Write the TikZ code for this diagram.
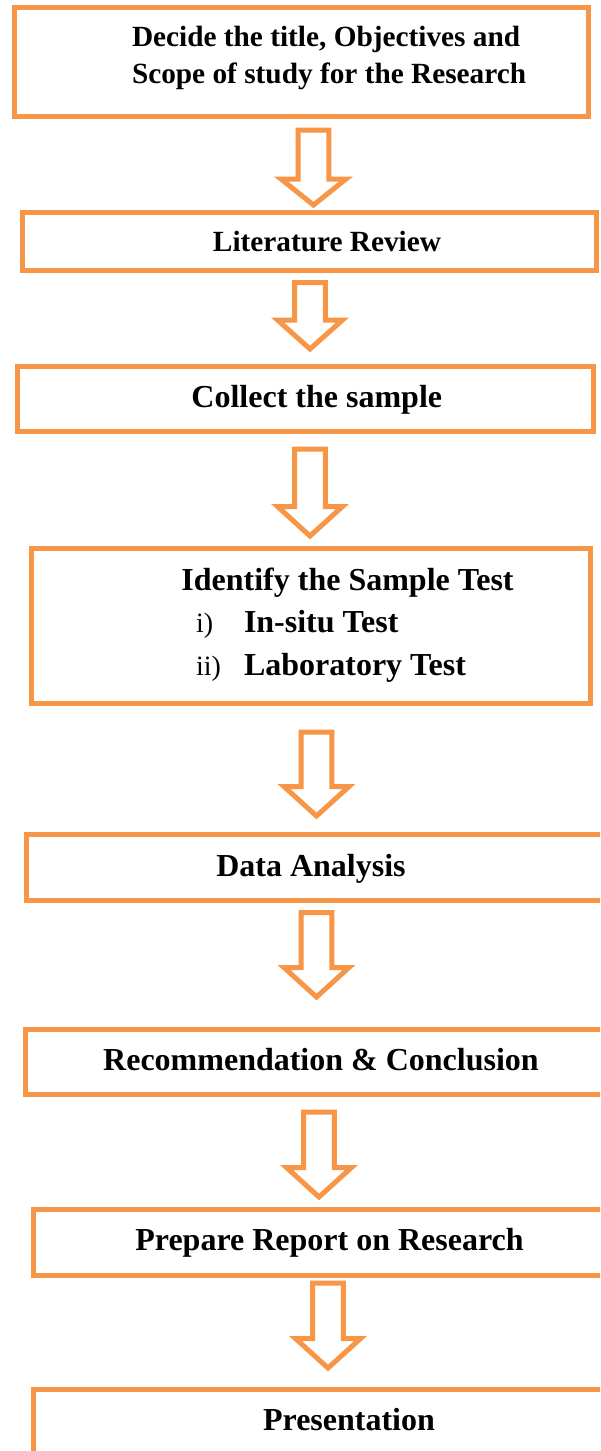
\documentclass[tikz,border=0pt]{standalone}
\usepackage{fontspec}
\setmainfont{Liberation Serif}
\begin{document}
\begin{tikzpicture}[x=1pt,y=-1pt,
  box/.style={draw=flow, line width=5pt, inner sep=0pt, outer sep=0pt, rectangle},
  arrowline/.style={draw=flow, fill=white, line width=5pt, line join=miter},
  lbl/.style={inner sep=0pt, outer sep=0pt, text=black},
  smalltxt/.style={lbl, font=\fontsize{29.3}{35}\selectfont\bfseries},
  bigtxt/.style={lbl, font=\fontsize{32}{38}\selectfont\bfseries},
  numtxt/.style={lbl, font=\fontsize{28}{34}\selectfont}]
\definecolor{flow}{HTML}{F79646}
\useasboundingbox (0,0) rectangle (600,1451);
\clip (0,0) rectangle (600,1451);
\fill[white] (0,0) rectangle (600,1451);

% process boxes
\node[box, minimum width=574.5pt, minimum height=109pt] (b1) at (301.25,62) {};
\node[box, minimum width=574pt,   minimum height=58pt]  (b2) at (309.5,241.5) {};
\node[box, minimum width=576pt,   minimum height=65pt]  (b3) at (305.5,399) {};
\node[box, minimum width=559pt,   minimum height=155pt] (b4) at (311,626) {};
\node[box, minimum width=593.5pt, minimum height=66pt]  (b5) at (323.25,867.5) {};
\node[box, minimum width=594.5pt, minimum height=65pt]  (b6) at (322.75,1062) {};
\node[box, minimum width=586.5pt, minimum height=66pt]  (b7) at (326.75,1242.5) {};
\node[box, minimum width=586.5pt, minimum height=90.5pt] (b8) at (326.75,1434.75) {};

% box texts
\node[smalltxt, anchor=base west] (t1a) at (132,46) {Decide the title, Objectives and};
\node[smalltxt, anchor=base west] (t1b) at (132,83.3) {Scope of study for the Research};
\node[smalltxt, anchor=base] (t2) at (327,251.7) {Literature Review};
\node[bigtxt, anchor=base] (t3) at (316.8,407.3) {Collect the sample};
\node[bigtxt, anchor=base] (t4) at (347.5,590) {Identify the Sample Test};
\node[numtxt, anchor=base west] (n4a) at (196,632) {i)};
\node[bigtxt, anchor=base west] (t4a) at (244,632) {In-situ Test};
\node[numtxt, anchor=base west] (n4b) at (196,675) {ii)};
\node[bigtxt, anchor=base west] (t4b) at (244,675) {Laboratory Test};
\node[bigtxt, anchor=base] (t5) at (311,876) {Data Analysis};
\node[bigtxt, anchor=base] (t6) at (321,1070.7) {Recommendation \& Conclusion};
\node[bigtxt, anchor=base] (t7) at (329.5,1250.7) {Prepare Report on Research};
\node[bigtxt, anchor=base] (t8) at (349,1430) {Presentation};

% hollow block arrows: name, centre x, top, head base, tip
\newcommand\blockarrow[5]{%
  \draw[arrowline] (#2-15.3,#3) coordinate (#1) -- (#2+15.3,#3) -- (#2+15.3,#4)
    -- (#2+32.5,#4) -- (#2,#5) coordinate (#1tip) -- (#2-32.5,#4) -- (#2-15.3,#4) -- cycle;}
\blockarrow{a1}{313.5}{130}{179}{205}
\blockarrow{a2}{310}{282.5}{320}{349}
\blockarrow{a3}{310}{449}{506.5}{536}
\blockarrow{a4}{316.5}{732}{786.5}{816}
\blockarrow{a5}{316.5}{912.5}{967.5}{997}
\blockarrow{a6}{319}{1112}{1167.5}{1197}
\blockarrow{a7}{328}{1283}{1338.5}{1368}
\end{tikzpicture}
\end{document}
